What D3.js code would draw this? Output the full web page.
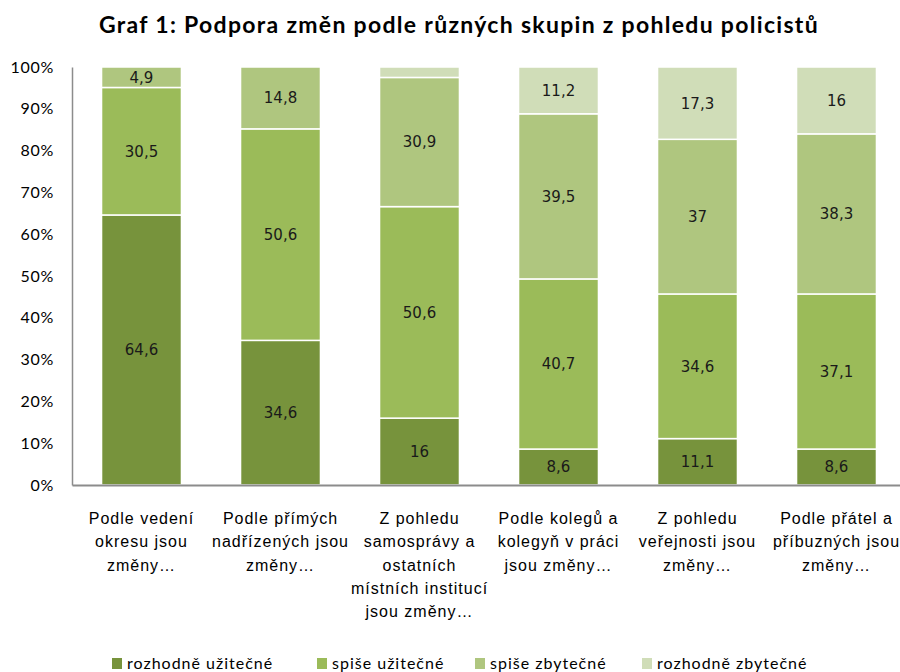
<!DOCTYPE html>
<html>
<head>
<meta charset="utf-8">
<script src="https://cdn.jsdelivr.net/npm/d3@7"></script>
<style>
    body { margin: 0; background: #fff; }
    svg { display: block; }
</style>
</head>
<body>
<div id="wrapper"></div>
<script>
const categories = [
    ["Podle vedení", "okresu jsou", "změny…"],
    ["Podle přímých", "nadřízených jsou", "změny…"],
    ["Z pohledu", "samosprávy a", "ostatních", "místních institucí", "jsou změny…"],
    ["Podle kolegů a", "kolegyň v práci", "jsou změny…"],
    ["Z pohledu", "veřejnosti jsou", "změny…"],
    ["Podle přátel a", "příbuzných jsou", "změny…"]
]
const seriesNames = ["rozhodně užitečné", "spiše užitečné", "spiše zbytečné", "rozhodně zbytečné"]
const rozhodneUzitecne = [64.6, 34.6, 16, 8.6, 11.1, 8.6]
const spiseUzitecne = [30.5, 50.6, 50.6, 40.7, 34.6, 37.1]
const spiseZbytecne = [4.9, 14.8, 30.9, 39.5, 37, 38.3]
const rozhodneZbytecne = [0, 0, 2.5, 11.2, 17.3, 16]
const yTicks = [0, 10, 20, 30, 40, 50, 60, 70, 80, 90, 100]
const colors = ["#77933c", "#9bbb59", "#afc67f", "#d0ddb8"]

const dataset = categories.map((c, i) => ({
    key: i,
    [seriesNames[0]]: rozhodneUzitecne[i],
    [seriesNames[1]]: spiseUzitecne[i],
    [seriesNames[2]]: spiseZbytecne[i],
    [seriesNames[3]]: rozhodneZbytecne[i]
}))

let dimensions = {
    width: 900,
    height: 672,
    margin: { top: 67, right: -6, bottom: 187, left: 72 }
}
dimensions.boundedWidth = dimensions.width - dimensions.margin.left - dimensions.margin.right
dimensions.boundedHeight = dimensions.height - dimensions.margin.top - dimensions.margin.bottom

const wrapper = d3.select("#wrapper")
                  .append("svg")
                  .attr("width", dimensions.width)
                  .attr("height", dimensions.height)
                  .style("font-family", "Lato, 'Open Sans', sans-serif")

wrapper.append("text")
       .attr("x", 459)
       .attr("y", 33)
       .attr("text-anchor", "middle")
       .style("font-size", "23px")
       .style("font-weight", "bold")
       .style("letter-spacing", "1.3px")
       .text("Graf 1: Podpora změn podle různých skupin z pohledu policistů")

const bounds = wrapper.append("g")
                      .attr("transform", `translate(${dimensions.margin.left},${dimensions.margin.top})`)

const xScale = d3.scaleBand()
                 .domain(dataset.map(d => d.key))
                 .range([0, dimensions.boundedWidth])
                 .paddingInner(0.425)
                 .paddingOuter(0.2125)

const yScale = d3.scaleLinear()
                 .domain([0, 100])
                 .range([dimensions.boundedHeight, 0])

const stacked = d3.stack().keys(seriesNames)(dataset)

const layers = bounds.selectAll(".layer")
                     .data(stacked)
                     .enter()
                     .append("g")
                     .attr("class", "layer")
                     .attr("fill", (d, i) => colors[i])

layers.selectAll("rect")
      .data(d => d)
      .enter()
      .append("rect")
      .attr("x", d => xScale(d.data.key))
      .attr("y", d => yScale(d[1]))
      .attr("width", xScale.bandwidth())
      .attr("height", d => yScale(d[0]) - yScale(d[1]))
      .attr("stroke", "#fff")
      .attr("stroke-width", 1.5)

// data labels, skip the tiny slices
layers.selectAll("text")
      .data(d => d.filter(p => p[1] - p[0] >= 3))
      .enter()
      .append("text")
      .attr("x", d => xScale(d.data.key) + xScale.bandwidth() / 2)
      .attr("y", d => (yScale(d[0]) + yScale(d[1])) / 2)
      .attr("dy", "0.36em")
      .attr("text-anchor", "middle")
      .attr("fill", "#1a1a1a")
      .style("font-family", "'DejaVu Sans', sans-serif")
      .style("font-size", "15px")
      .text(d => d3.format(".1~f")(d[1] - d[0]).replace(".", ","))

const yAxisGenerator = d3.axisLeft()
                         .scale(yScale)
                         .tickValues(yTicks)
                         .tickSize(0)
                         .tickPadding(18)
                         .tickFormat(d => d + "%")

const yAxis = bounds.append("g").call(yAxisGenerator)
yAxis.select(".domain").attr("stroke", "#8c8c8c").attr("stroke-width", 1.5)
yAxis.selectAll("text")
     .attr("fill", "#000")
     .style("font-family", "Lato, sans-serif")
     .style("font-size", "16px")
     .style("letter-spacing", "0.7px")

const xAxisGenerator = d3.axisBottom()
                         .scale(xScale)
                         .tickSize(0)
                         .tickFormat("")

const xAxis = bounds.append("g")
                    .attr("transform", `translate(0,${dimensions.boundedHeight})`)
                    .call(xAxisGenerator)
xAxis.select(".domain").attr("stroke", "#8c8c8c").attr("stroke-width", 2)

xAxis.selectAll(".tick")
     .append("text")
     .attr("fill", "#000")
     .attr("text-anchor", "middle")
     .style("font-size", "16px")
     .style("letter-spacing", "1px")
     .selectAll("tspan")
     .data(d => categories[d])
     .enter()
     .append("tspan")
     .attr("x", 0)
     .attr("y", (d, i) => 39 + i * 23.3)
     .text(d => d)

const legendX = [112, 317, 475, 642]
const legend = wrapper.append("g")
                      .selectAll("g")
                      .data(seriesNames)
                      .enter()
                      .append("g")
                      .attr("transform", (d, i) => `translate(${legendX[i]},658)`)

legend.append("rect")
      .attr("width", 10)
      .attr("height", 11)
      .attr("fill", (d, i) => colors[i])

legend.append("text")
      .attr("x", 15)
      .attr("y", 11)
      .attr("fill", "#000")
      .style("font-size", "16px")
      .style("letter-spacing", "1px")
      .text(d => d)
</script>
</body>
</html>
